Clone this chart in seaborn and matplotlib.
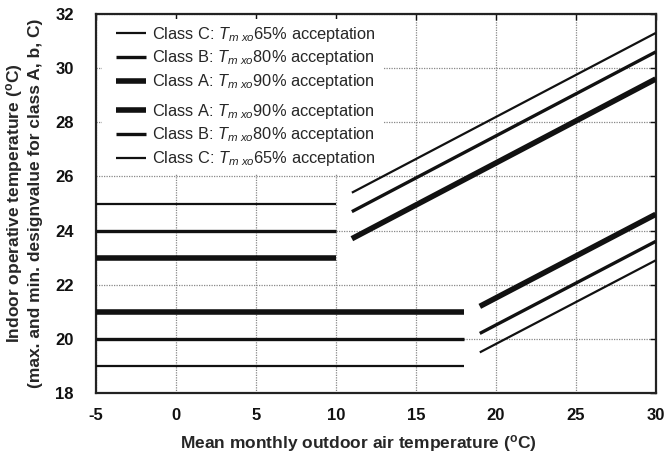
import matplotlib
matplotlib.use("Agg")
import matplotlib.pyplot as plt
import seaborn as sns
import pandas as pd
from matplotlib.lines import Line2D
from matplotlib.patches import Rectangle

# Data: segment endpoints
classes = ["A", "B", "C"]
# upper limits (max), winter plateau from -5 to 10
upper_flat_x = [-5, 10]
upper_flat_y = {"A": [23.0, 23.0], "B": [24.0, 24.0], "C": [25.0, 25.0]}
# upper limits, sloped part from 11 to 30
upper_slope_x = [11, 30]
upper_slope_y = {"A": [23.7, 29.6], "B": [24.7, 30.6], "C": [25.4, 31.3]}
# lower limits (min), plateau from -5 to 18
lower_flat_x = [-5, 18]
lower_flat_y = {"A": [21.0, 21.0], "B": [20.0, 20.0], "C": [19.0, 19.0]}
# lower limits, sloped part from 19 to 30
lower_slope_x = [19, 30]
lower_slope_y = {"A": [21.2, 24.6], "B": [20.2, 23.6], "C": [19.5, 22.9]}

legend_top = ["Class C: $T_{m\\ xo}$65% acceptation",
              "Class B: $T_{m\\ xo}$80% acceptation",
              "Class A: $T_{m\\ xo}$90% acceptation"]
legend_bottom = ["Class A: $T_{m\\ xo}$90% acceptation",
                 "Class B: $T_{m\\ xo}$80% acceptation",
                 "Class C: $T_{m\\ xo}$65% acceptation"]

widths = {"A": 4.0, "B": 2.4, "C": 1.6}

sns.set_style("white")
plt.rcParams["font.family"] = ["Liberation Sans", "DejaVu Sans"]
plt.rcParams["mathtext.fontset"] = "custom"
plt.rcParams["mathtext.rm"] = "Liberation Sans"
plt.rcParams["mathtext.it"] = "Liberation Sans:italic"
plt.rcParams["mathtext.bf"] = "Liberation Sans:bold"
plt.rcParams["axes.unicode_minus"] = False

fig, ax = plt.subplots(figsize=(6.65, 4.53), dpi=100)
fig.subplots_adjust(left=0.1444, right=0.986, bottom=0.1325, top=0.969)

segments = []
for c in classes:
    segments.append((upper_flat_x, upper_flat_y[c], c))
    segments.append((upper_slope_x, upper_slope_y[c], c))
    segments.append((lower_flat_x, lower_flat_y[c], c))
    segments.append((lower_slope_x, lower_slope_y[c], c))

for xs, ys, c in segments:
    df = pd.DataFrame({"x": xs, "y": ys})
    sns.lineplot(data=df, x="x", y="y", ax=ax, color="#111111",
                 linewidth=widths[c], solid_capstyle="butt", zorder=3)

ax.set_xlim(-5, 30)
ax.set_ylim(18, 32)
ax.set_xticks(range(-5, 31, 5))
ax.set_yticks(range(18, 33, 2))
ax.set_axisbelow(True)
ax.grid(True, linestyle=(0, (1, 1)), color="#888888", linewidth=0.9)
ax.tick_params(axis="both", direction="in", length=4, width=1, top=True, right=True,
               labelsize=12, colors="#111111")
ax.tick_params(axis="x", pad=11)
ax.tick_params(axis="y", pad=16)
for lbl in ax.get_xticklabels() + ax.get_yticklabels():
    lbl.set_fontweight("bold")
for sp in ax.spines.values():
    sp.set_linewidth(1.6)
    sp.set_color("#222222")

# white background behind the legend block (hides grid there)
ax.add_patch(Rectangle((6 / 559, (393 - 174) / 379), (383 - 102) / 559, (174 - 19) / 379,
                       transform=ax.transAxes, facecolor="white", edgecolor="none", zorder=0.8))

deg = r"($^\mathbf{o}$C)"
ax.set_xlabel("Mean monthly outdoor air temperature " + deg, fontsize=12.5,
              fontweight="bold")
ax.xaxis.set_label_coords(0.469, -0.105)
ax.set_ylabel("Indoor operative temperature " + deg +
              "\n(max. and min. designvalue for class A, b, C)",
              fontsize=12.5, fontweight="bold", labelpad=9)

top_handles = [Line2D([], [], color="#111111", lw=widths[c], solid_capstyle="butt")
               for c in ["C", "B", "A"]]
bot_handles = [Line2D([], [], color="#111111", lw=widths[c], solid_capstyle="butt")
               for c in ["A", "B", "C"]]
leg_kw = dict(loc="upper left", frameon=False, fontsize=11.8, handlelength=1.85,
              handletextpad=0.35, labelspacing=0.3, borderaxespad=0, borderpad=0)
leg1 = ax.legend(top_handles, legend_top, bbox_to_anchor=(20 / 559, (393 - 24.5) / 379), **leg_kw)
ax.add_artist(leg1)
leg2 = ax.legend(bot_handles, legend_bottom, bbox_to_anchor=(20 / 559, (393 - 101.5) / 379), **leg_kw)
leg1.set_zorder(5)
leg2.set_zorder(5)

fig.savefig("out.png", dpi=100)
